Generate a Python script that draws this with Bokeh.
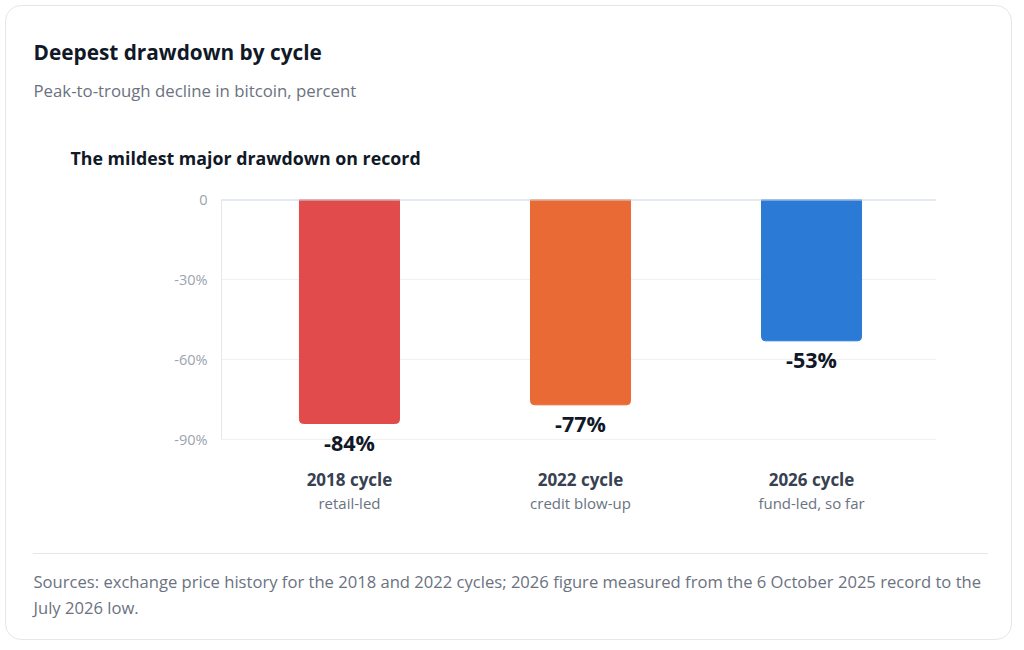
from bokeh.plotting import figure
from bokeh.models import (ColumnDataSource, Range1d, FixedTicker, LinearAxis,
                          LabelSet, Span, Title)
from bokeh.core.properties import value
from bokeh.embed import file_html
from bokeh.resources import INLINE

# ---- data ----
cycles = ["2018 cycle", "2022 cycle", "2026 cycle"]
drivers = ["retail-led", "credit blow-up", "fund-led, so far"]
drawdowns = [-84, -77, -53]
bar_colors = ["#E14B4B", "#EA6A36", "#2B7AD6"]
y_ticks = [0, -30, -60, -90]
y_tick_labels = ["0", "-30%", "-60%", "-90%"]

title_text = "Deepest drawdown by cycle"
subtitle_text = "Peak-to-trough decline in bitcoin, percent"
chart_title_text = "The mildest major drawdown on record"
source_lines = [
    "Sources: exchange price history for the 2018 and 2022 cycles; 2026 figure measured from the 6 October 2025 record to the",
    "July 2026 low.",
]

FONT = "Open Sans"
W, H = 1007, 635
FL, FT, FW, FH = 215, 193, 715, 262

xs = list(range(len(cycles)))
src = ColumnDataSource(dict(
    x=xs, value=drawdowns, color=bar_colors,
    label=[f"{v}%" for v in drawdowns],
))

p = figure(width=W, height=H, output_backend="svg", toolbar_location=None,
           x_range=Range1d(-0.554, 2.541), y_range=Range1d(-98.25, 0),
           x_axis_type=None,
           min_border_left=FL, min_border_top=FT,
           min_border_right=W - FL - FW, min_border_bottom=H - FT - FH)
p.margin = (5, 5, 5, 5)
p.outline_line_color = None
p.background_fill_color = "white"
p.border_fill_color = None
p.styles = {
    "border": "1px solid #e5e7eb", "border-radius": "16px", "overflow": "hidden",
    "background-color": "white",
    "background-image": "linear-gradient(#e5e7eb, #e5e7eb)",
    "background-repeat": "no-repeat",
    "background-size": "955px 1px",
    "background-position": "27px 547px",
}

# y axis
yax = p.yaxis[0]
yax.ticker = FixedTicker(ticks=y_ticks)
yax.bounds = (min(y_ticks), max(y_ticks))
yax.major_label_overrides = {t: l for t, l in zip(y_ticks, y_tick_labels)}
yax.axis_line_color = "#e5e7eb"
yax.major_tick_line_color = None
yax.minor_tick_line_color = None
yax.major_label_text_color = "#9ca3af"
yax.major_label_text_font = FONT
yax.major_label_text_font_size = "14.5px"
yax.major_label_standoff = 8
p.ygrid.ticker = FixedTicker(ticks=y_ticks)
p.ygrid.grid_line_color = "#eff1f4"
p.xgrid.visible = False

# x axes: cycle names and drivers
ax1 = LinearAxis(ticker=FixedTicker(ticks=xs),
                 major_label_overrides={i: c for i, c in zip(xs, cycles)})
ax2 = LinearAxis(ticker=FixedTicker(ticks=xs),
                 major_label_overrides={i: d for i, d in zip(xs, drivers)})
for ax in (ax1, ax2):
    ax.axis_line_color = None
    ax.major_tick_line_color = None
    ax.minor_tick_line_color = None
    ax.major_label_text_font = FONT
ax1.major_label_text_font_style = "bold"
ax1.major_label_text_font_size = "17px"
ax1.major_label_text_color = "#374151"
ax1.major_label_standoff = 0
ax2.major_label_text_font_size = "15px"
ax2.major_label_text_color = "#6b7280"
ax2.major_label_standoff = -7
p.add_layout(ax1, "below")
p.add_layout(ax2, "below")

# bars
p.vbar(x="x", top="value", bottom=0, width=0.433, color="color", source=src,
       border_radius=(0, 0, 4, 4))
p.add_layout(Span(location=0, dimension="width", line_color="#cbd5e1", line_width=2))

p.add_layout(LabelSet(x="x", y="value", text="label", source=src,
                      text_align="center", text_baseline="top", y_offset=-4,
                      text_font=value(FONT), text_font_style="bold", text_font_size="21.5px",
                      text_color="#111827"))

# titles (above: first added sits nearest the frame; below: after the axes)
def title(txt, size, color, bold, standoff, place, offset=-188, **kw):
    t = Title(text=txt, align="left", offset=offset, standoff=standoff,
              text_font=FONT, text_font_size=size, text_color=color,
              text_font_style="bold" if bold else "normal", **kw)
    p.add_layout(t, place)

title(chart_title_text, "17.8px", "#111827", True, 60, "above", offset=-151)
title(subtitle_text, "16.8px", "#6b7280", False, 23, "above")
title(title_text, "20.8px", "#111827", True, -1, "above")
# two leading empty lines push the footer below the separator
title("\n\n" + "\n".join(source_lines), "16.6px", "#6b7280", False, 0, "below",
      text_line_height=1.15)

open("out.html", "w").write(file_html(p, INLINE))
